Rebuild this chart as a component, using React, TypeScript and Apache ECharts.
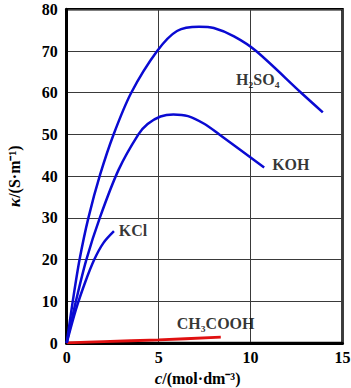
import React, { useEffect, useRef } from "react";
import * as echarts from "echarts";

const h2so4C = [0, 0.33, 0.7, 1.18, 1.82, 2.55, 3.51, 4.92, 6.0, 7.2, 8.0, 9.1, 10.3, 12.75, 13.93];
const h2so4K = [0, 10, 20, 30, 40.4, 50, 60, 70, 74.8, 75.8, 75.5, 73.5, 70, 60, 55.3];
const kohC = [0, 0.5, 1.07, 1.8, 2.82, 3.9, 4.4, 5.1, 5.8, 6.6, 7.5, 8.3, 10.74];
const kohK = [0, 10, 20, 30, 41.5, 50, 52.5, 54.3, 54.8, 54.4, 52.5, 50, 42.1];
const kclC = [0, 0.5, 1.0, 1.5, 2.0, 2.57];
const kclK = [0, 8, 14.5, 20, 24, 26.8];
const aceticC = [0, 2, 5, 8.38];
const aceticK = [0.05, 0.35, 0.75, 1.4];

const labelNames = ["H₂SO₄", "KOH", "KCl", "CH₃COOH"];
const labelC = [10.39, 12.19, 3.61, 8.1];
const labelK = [63.1, 42.7, 26.9, 4.7];

const FONT = "'Liberation Serif', 'Times New Roman', serif";

function pairs(xs: number[], ys: number[]) {
  return xs.map((x, i) => [x, ys[i]]);
}

export default function App() {
  const ref = useRef<HTMLDivElement>(null);
  useEffect(() => {
    if (!ref.current) return;
    const chart = echarts.init(ref.current, undefined, { renderer: "svg" });
    const blue = "#0a0ad2";
    chart.setOption({
      animation: false,
      grid: {
        left: 66.7,
        right: 8.5,
        top: 9.3,
        bottom: 45,
        containLabel: false,
        outerBoundsMode: "none",
        show: true,
        borderColor: "#000",
        borderWidth: 2.5,
      },
      xAxis: {
        type: "value",
        min: 0,
        max: 15,
        interval: 5,
        name: "{i|c}/(mol·dm⁻³)",
        nameLocation: "middle",
        nameGap: 23,
        nameTextStyle: {
          fontFamily: FONT,
          fontWeight: "bold",
          fontSize: 16,
          color: "#000",
          padding: [0, 14, 0, 0],
          rich: {
            i: { fontFamily: FONT, fontWeight: "bold", fontStyle: "italic", fontSize: 17, color: "#000" },
          },
        },
        axisLine: { show: true, lineStyle: { color: "#000", width: 3 } },
        axisTick: { show: false },
        axisLabel: { fontFamily: FONT, fontWeight: "bold", fontSize: 16, color: "#000", margin: 6 },
        splitLine: { show: true, lineStyle: { color: "#3a3a3a", width: 1 } },
      },
      yAxis: {
        type: "value",
        min: 0,
        max: 80,
        interval: 10,
        name: "{i|κ}/(S·m⁻¹)",
        nameLocation: "middle",
        nameRotate: 90,
        nameGap: 44,
        nameTextStyle: {
          fontFamily: FONT,
          fontWeight: "bold",
          fontSize: 16,
          color: "#000",
          rich: {
            i: { fontFamily: FONT, fontWeight: "bold", fontStyle: "italic", fontSize: 17, color: "#000" },
          },
        },
        axisLine: { show: true, lineStyle: { color: "#000", width: 3 } },
        axisTick: { show: false },
        axisLabel: { fontFamily: FONT, fontWeight: "bold", fontSize: 16, color: "#000", margin: 9 },
        splitLine: { show: true, lineStyle: { color: "#3a3a3a", width: 1 } },
      },
      series: [
        {
          type: "line",
          data: pairs(h2so4C, h2so4K),
          smooth: 0.3,
          showSymbol: false,
          lineStyle: { color: blue, width: 2.5 },
          z: 3,
        },
        {
          type: "line",
          data: pairs(kohC, kohK),
          smooth: 0.3,
          showSymbol: false,
          lineStyle: { color: blue, width: 2.5 },
          z: 3,
        },
        {
          type: "line",
          data: pairs(kclC, kclK),
          smooth: 0.3,
          showSymbol: false,
          lineStyle: { color: blue, width: 2.5 },
          z: 3,
        },
        {
          type: "line",
          data: pairs(aceticC, aceticK),
          smooth: 0.3,
          showSymbol: false,
          lineStyle: { color: "#e01010", width: 2.8 },
          z: 2,
        },
        {
          type: "scatter",
          symbolSize: 0,
          data: labelNames.map((n, i) => ({ name: n, value: [labelC[i], labelK[i]] })),
          label: {
            show: true,
            position: "inside",
            formatter: (p: any) => p.name,
            fontFamily: FONT,
            fontWeight: "bold",
            fontSize: 16,
            color: "#000",
          },
          z: 4,
        },
      ],
    });
    return () => chart.dispose();
  }, []);
  return <div ref={ref} style={{ width: 351, height: 388, position: "absolute", left: 0, top: 0 }} />;
}
